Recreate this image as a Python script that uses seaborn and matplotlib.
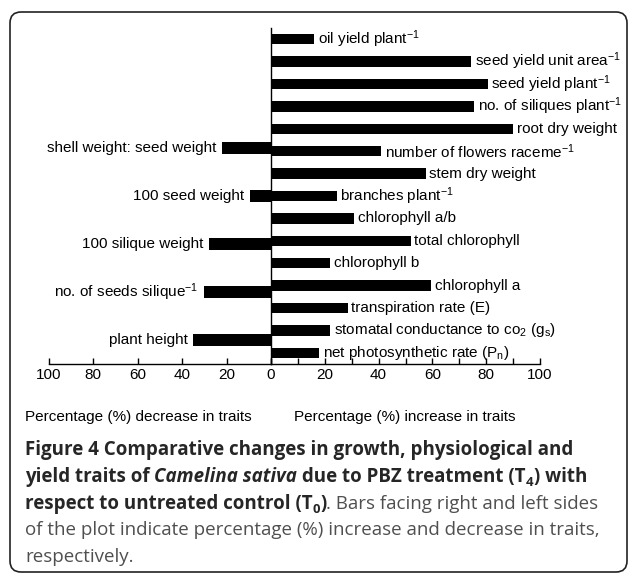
import matplotlib
matplotlib.use("Agg")
import matplotlib.pyplot as plt
import matplotlib.patches as mpatches
import matplotlib.transforms as mtransforms
from matplotlib.ticker import MultipleLocator
import pandas as pd
import seaborn as sns

# traits that went up with PBZ (right side), top to bottom
right_traits = [
    r"oil yield plant$^{-1}$",
    r"seed yield unit area$^{-1}$",
    r"seed yield plant$^{-1}$",
    r"no. of siliques plant$^{-1}$",
    "root dry weight",
    r"number of flowers raceme$^{-1}$",
    "stem dry weight",
    r"branches plant$^{-1}$",
    "chlorophyll a/b",
    "total chlorophyll",
    "chlorophyll b",
    "chlorophyll a",
    "transpiration rate (E)",
    r"stomatal conductance to co$_2$ (g$_\mathregular{s}$)",
    r"net photosynthetic rate (P$_\mathregular{n}$)",
]
right_values = [16, 74.5, 80.5, 75.5, 90, 41, 57.5, 24.5, 31, 52, 22, 59.5, 28.5, 22, 18]

# traits that went down (left side), top to bottom
left_traits = [
    "shell weight: seed weight",
    "100 seed weight",
    "100 silique weight",
    r"no. of seeds silique$^{-1}$",
    "plant height",
]
left_values = [22, 9.5, 28, 30, 35]

left_ticks = [100, 80, 60, 40, 20, 0]
left_ticklabels = ["100", "80", "60", "40", "20", ""]

W, H = 629, 573

sns.set_theme(style="white")
plt.rcParams["font.family"] = ["Liberation Sans", "DejaVu Sans"]
plt.rcParams["mathtext.fontset"] = "custom"
plt.rcParams["mathtext.rm"] = "Liberation Sans"
plt.rcParams["mathtext.it"] = "Liberation Sans:italic"
plt.rcParams["mathtext.bf"] = "Liberation Sans:bold"


def px_rect(x0, x1, y0, y1):
    return [x0 / W, 1 - y1 / H, (x1 - x0) / W, (y1 - y0) / H]


fig = plt.figure(figsize=(W / 100, H / 100), dpi=100)
ax_l = fig.add_axes(px_rect(48.5, 271, 28, 364))
ax_r = fig.add_axes(px_rect(271, 540, 28, 364))

df_r = pd.DataFrame({"trait": right_traits, "change": right_values})
df_l = pd.DataFrame({"trait": left_traits, "change": left_values})

sns.barplot(data=df_r, x="change", y="trait", orient="h", color="black",
            saturation=1, width=0.47, errorbar=None, linewidth=0, ax=ax_r)
sns.barplot(data=df_l, x="change", y="trait", orient="h", color="black",
            saturation=1, width=0.23, errorbar=None, linewidth=0, ax=ax_l)

label_size = 11
for i, (name, v) in enumerate(zip(right_traits, right_values)):
    ax_r.annotate(name, xy=(v, i), xytext=(2.5, 0), textcoords="offset points",
                  ha="left", va="center", fontsize=label_size, color="black")
for i, (name, v) in enumerate(zip(left_traits, left_values)):
    ax_l.annotate(name, xy=(v, i), xytext=(-4, 0), textcoords="offset points",
                  ha="right", va="center", fontsize=label_size, color="black")

# right half: 0 -> 100, left half: 100 -> 0 (narrower scale)
ax_r.set_xlim(0, 100)
ax_r.set_ylim(14.5, -0.5)
ax_r.xaxis.set_major_locator(MultipleLocator(20))
ax_r.xaxis.set_minor_locator(MultipleLocator(10))

ax_l.set_xlim(100, 0)
ax_l.set_ylim(4.5, -2.5)
ax_l.set_xticks(left_ticks)
ax_l.set_xticklabels(left_ticklabels)

for ax in (ax_l, ax_r):
    ax.set_facecolor("none")
    ax.set_yticks([])
    ax.set_xlabel("")
    ax.set_ylabel("")
    ax.tick_params(axis="x", which="both", direction="in", length=4, width=1,
                   color="black", labelsize=11, labelcolor="black", pad=3,
                   bottom=True)
    for side in ("top", "right", "left"):
        ax.spines[side].set_visible(False)
    ax.spines["bottom"].set_color("black")
    ax.spines["bottom"].set_linewidth(1)
ax_r.spines["left"].set_visible(True)
ax_r.spines["left"].set_color("black")
ax_r.spines["left"].set_linewidth(1)

fig.text(25 / W, 1 - 421 / H, "Percentage (%) decrease in traits",
         ha="left", va="baseline", fontsize=11, color="black")
fig.text(294 / W, 1 - 421 / H, "Percentage (%) increase in traits",
         ha="left", va="baseline", fontsize=11, color="black")

# caption, drawn piece by piece so bold / italic / subscripts mix on a line
renderer = fig.canvas.get_renderer()
cap_size = 13.5
dark = "#262626"
grey = "#4f4f4f"
styles = {
    "b": dict(family="Open Sans", weight="bold", style="normal", color=dark, size=cap_size),
    "bi": dict(family="Open Sans", weight="bold", style="italic", color=dark, size=cap_size),
    "bsub": dict(family="Open Sans", weight="bold", style="normal", color=dark, size=cap_size * 0.7),
    "r": dict(family="Open Sans", weight="normal", style="normal", color=grey, size=cap_size),
}


def advance(s, kw):
    probe = fig.text(0, 0, s + "|", **kw)
    bar = fig.text(0, 0, "|", **kw)
    w = probe.get_window_extent(renderer).width - bar.get_window_extent(renderer).width
    probe.remove()
    bar.remove()
    return w


def caption_line(y, parts, x=25):
    for s, kind in parts:
        kw = styles[kind]
        dy = 4 if kind == "bsub" else 0
        fig.text(x / W, 1 - (y + dy) / H, s, ha="left", va="baseline", **kw)
        x += advance(s, kw)


caption_line(455, [("Figure 4 Comparative changes in growth, physiological and", "b")])
caption_line(482, [("yield traits of ", "b"), ("Camelina sativa", "bi"),
                   (" due to PBZ treatment (T", "b"), ("4", "bsub"), (") with", "b")])
caption_line(509, [("respect to untreated control (T", "b"), ("0", "bsub"), (")", "b"),
                   (". Bars facing right and left sides", "r")])
caption_line(535, [("of the plot indicate percentage (%) increase and decrease in traits,", "r")])
caption_line(562, [("respectively.", "r")])

frame = mpatches.FancyBboxPatch((10, 1), 617, 560, boxstyle="round,pad=0,rounding_size=11",
                                transform=mtransforms.IdentityTransform(), fill=False,
                                edgecolor="#222222", linewidth=1.2)
fig.add_artist(frame)

fig.savefig("out.png", dpi=100)
